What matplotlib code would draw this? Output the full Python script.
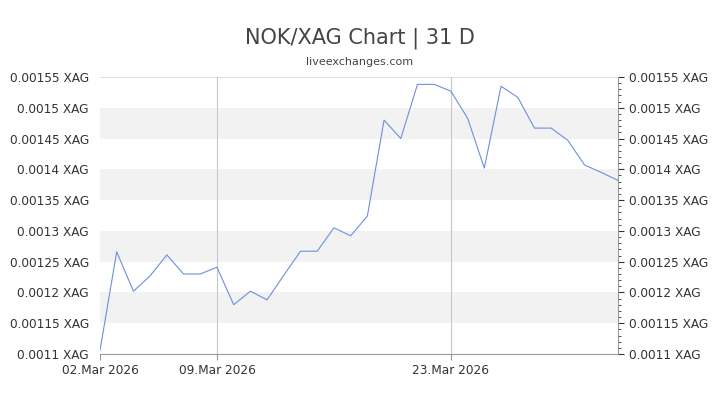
import matplotlib
matplotlib.use("Agg")
import matplotlib.pyplot as plt
import numpy as np

days = list(range(32))
values = [0.001106,0.001266,0.001202,0.001227,0.001261,0.00123,0.00123,0.001241,
          0.00118,0.001202,0.001188,0.001228,0.001267,0.001267,0.001305,0.001292,
          0.001324,0.00148,0.00145,0.001538,0.001538,0.001527,0.001483,0.001402,
          0.001535,0.001517,0.001467,0.001467,0.001447,0.001407,0.001395,0.001382]
tick_days = [0, 7, 21]
tick_labels = ["02.Mar 2026", "09.Mar 2026", "23.Mar 2026"]
yticks = [0.0011,0.00115,0.0012,0.00125,0.0013,0.00135,0.0014,0.00145,0.0015,0.00155]
ylabels = ["0.0011 XAG","0.00115 XAG","0.0012 XAG","0.00125 XAG","0.0013 XAG",
           "0.00135 XAG","0.0014 XAG","0.00145 XAG","0.0015 XAG","0.00155 XAG"]

fig = plt.figure(figsize=(7.2, 4.05), dpi=100)
ax = fig.add_axes([100/720, 1-354/405, 518/720, 277/405])
for i in range(1, len(yticks)-1, 2):
    ax.axhspan(yticks[i], yticks[i+1], color="#f2f2f2", lw=0)
ax.axhline(yticks[-1], color="#e0e0e0", lw=0.8)
for d in tick_days[1:]:
    ax.axvline(d, color="#c8c8c8", lw=0.8)
ax.plot(days, values, color="#6d8fe0", lw=0.8)
ax.set_xlim(0, 31)
ax.set_ylim(0.0011, 0.00155)
ax.set_xticks(tick_days)
ax.set_xticklabels(tick_labels, fontsize=8.7, color="#333")
ax.set_yticks(yticks)
ax.set_yticklabels(ylabels, fontsize=8.7, color="#333")
for s in ["top", "right", "left"]:
    ax.spines[s].set_visible(False)
ax.spines["bottom"].set_color("#999")
ax.tick_params(axis="y", length=0, pad=8)
ax.tick_params(axis="x", length=4, color="#999")
ax2 = ax.twinx()
ax2.set_ylim(0.0011, 0.00155)
ax2.set_yticks(yticks)
ax2.set_yticklabels(ylabels, fontsize=8.7, color="#333")
ax2.set_yticks(np.arange(0.0011, 0.00155, 0.00001), minor=True)
for s in ["top", "left", "bottom"]:
    ax2.spines[s].set_visible(False)
ax2.spines["right"].set_color("#999")
ax2.tick_params(axis="y", which="major", length=4, color="#333", pad=4)
ax2.tick_params(axis="y", which="minor", length=2, color="#333")
fig.text(0.5, 1-38/405, "NOK/XAG Chart | 31 D", ha="center", va="center", fontsize=15, color="#444")
fig.text(0.5, 1-62/405, "liveexchanges.com", ha="center", va="center", fontsize=8, color="#444")
fig.savefig("out.png", dpi=100)
